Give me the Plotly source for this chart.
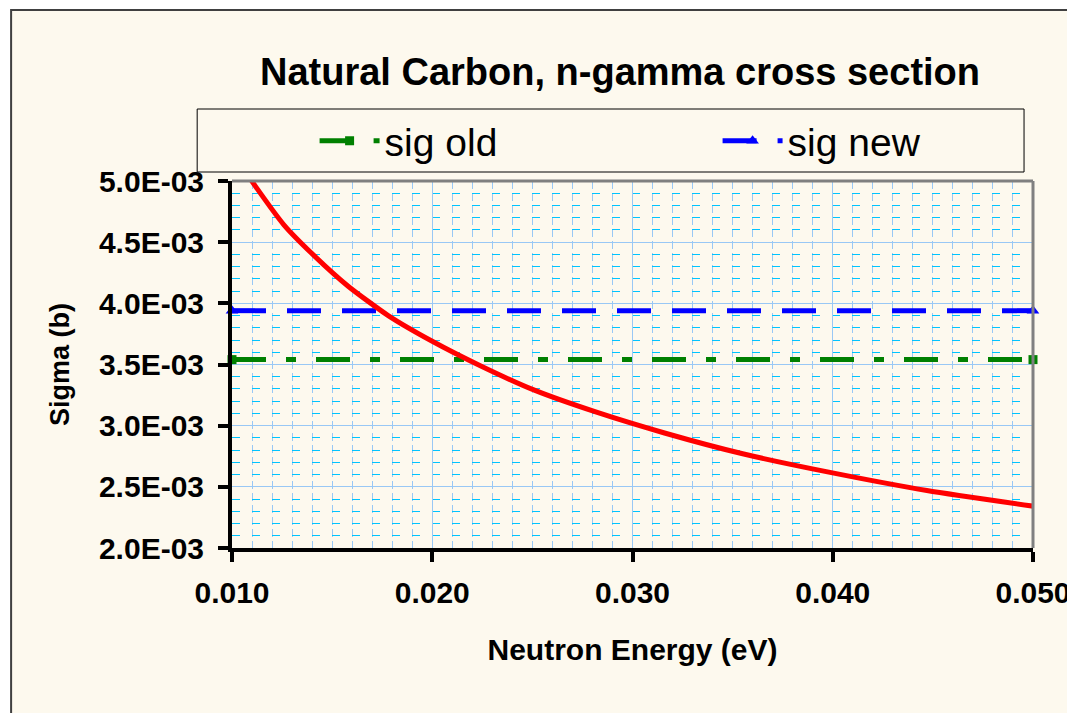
"""Natural carbon (n,gamma) cross section: tabulated old/new values vs 1/v curve."""
import plotly.graph_objects as go

# --------------------------------------------------------------------------- #
# Data
# --------------------------------------------------------------------------- #
ENERGY_EV = [0.0100, 0.0112, 0.0126, 0.0141, 0.0158, 0.0178, 0.0200, 0.0224,
             0.0251, 0.0282, 0.0316, 0.0355, 0.0398, 0.0447, 0.0501]
SIGMA_CURVE = [5.24e-3, 4.95e-3, 4.64e-3, 4.39e-3, 4.14e-3, 3.90e-3, 3.69e-3,
               3.49e-3, 3.29e-3, 3.11e-3, 2.94e-3, 2.77e-3, 2.62e-3, 2.47e-3,
               2.34e-3]

FLAT_ENERGY = [0.010, 0.050]
SIG_OLD = [3.54e-3, 3.54e-3]
SIG_NEW = [3.94e-3, 3.94e-3]

X_TICKS = [0.010, 0.020, 0.030, 0.040, 0.050]
Y_TICKS = [0.0020, 0.0025, 0.0030, 0.0035, 0.0040, 0.0045, 0.0050]
Y_TICK_LABELS = ["2.0E-03", "2.5E-03", "3.0E-03", "3.5E-03", "4.0E-03",
                 "4.5E-03", "5.0E-03"]

CREAM = "#FDF9EE"
FONT = "Arial, Liberation Sans, sans-serif"
W, H = 1075, 713
L, R, T, B = 224, 46, 173, 173
PAGE_OFFSET = 8   # body margin of the html page


def px_x(p):
    """Screen column -> paper x."""
    return (p - PAGE_OFFSET - L) / (W - L - R)


def px_y(p):
    """Screen row -> paper y."""
    return (H - B - (p - PAGE_OFFSET)) / (H - T - B)


fig = go.Figure()
fig.add_scatter(x=FLAT_ENERGY, y=SIG_OLD, name="sig old", mode="lines+markers",
                line=dict(color="#008000", width=5, dash="34px,20px,10px,20px"),
                marker=dict(symbol="square", size=9, color="#008000"),
                cliponaxis=False, legend="legend")
fig.add_scatter(x=FLAT_ENERGY, y=SIG_NEW, name="sig new", mode="lines+markers",
                line=dict(color="#0000FF", width=5, dash="34px,21px"),
                marker=dict(symbol="triangle-up", size=11, color="#0000FF"),
                cliponaxis=False, legend="legend2")
fig.add_scatter(x=ENERGY_EV, y=SIGMA_CURVE, name="1/v", mode="lines+markers",
                line=dict(color="#FF0000", width=5, shape="spline", smoothing=0.6),
                marker=dict(size=3, color="#FF0000"), showlegend=False)

# chart frame, legend box and the grey top/right plot border
fig.add_shape(type="rect", xref="paper", yref="paper", layer="below",
              x0=px_x(10), x1=px_x(1120), y0=px_y(760), y1=px_y(10),
              line=dict(color="#404040", width=2), fillcolor=CREAM)
fig.add_shape(type="rect", xref="paper", yref="paper", layer="below",
              x0=px_x(197), x1=px_x(1028), y0=px_y(172), y1=px_y(109),
              line=dict(color="black", width=1), fillcolor=CREAM)
fig.add_shape(type="line", xref="paper", yref="paper", x0=0, x1=1, y0=1, y1=1,
              line=dict(color="#808080", width=3))
fig.add_shape(type="line", xref="paper", yref="paper", x0=1, x1=1, y0=0, y1=1,
              line=dict(color="#808080", width=3))

axis_font = dict(family=FONT, size=30, color="black", weight="bold")
fig.update_xaxes(range=[0.010, 0.050], tickvals=X_TICKS, tickformat=".3f",
                 tickfont=axis_font, showline=True, linecolor="black",
                 linewidth=4, ticks="outside", ticklen=10, tickwidth=4,
                 tickcolor="black", ticklabelstandoff=5, showgrid=True,
                 gridcolor="#99C8F5", gridwidth=1, zeroline=False,
                 minor=dict(tickmode="linear", tick0=0.010, dtick=0.001,
                            showgrid=True, gridcolor="#99C8F5",
                            griddash="8px,4px", gridwidth=1),
                 title=dict(text="Neutron Energy (eV)", standoff=32,
                            font=dict(family=FONT, size=30, color="black",
                                      weight="bold")))
fig.update_yaxes(range=[0.0020, 0.0050], tickvals=Y_TICKS, ticktext=Y_TICK_LABELS,
                 tickfont=axis_font, showline=True, linecolor="black",
                 linewidth=4, ticks="outside", ticklen=10, tickwidth=4,
                 tickcolor="black", ticklabelstandoff=8, showgrid=True,
                 gridcolor="#99C8F5", gridwidth=1, zeroline=False,
                 minor=dict(tickmode="linear", tick0=0.0020, dtick=0.0001,
                            showgrid=True, gridcolor="#00C4FF",
                            griddash="8px,12px", gridwidth=1.2),
                 title=dict(text="Sigma (b)", standoff=22,
                            font=dict(family=FONT, size=27, color="black",
                                      weight="bold")))

legend_style = dict(orientation="h", y=px_y(141), xanchor="left",
                    yanchor="middle", bgcolor="rgba(0,0,0,0)", itemwidth=60,
                    font=dict(family=FONT, size=39, color="black"))
fig.update_layout(
    width=W, height=H, margin=dict(l=L, r=R, t=T, b=B),
    paper_bgcolor="white", plot_bgcolor=CREAM,
    title=dict(text="Natural Carbon, n-gamma cross section",
               x=(620 - PAGE_OFFSET) / W, xanchor="center",
               y=1 - (72 - PAGE_OFFSET) / H, yanchor="middle",
               font=dict(family=FONT, size=38, color="black", weight="bold")),
    legend=dict(x=px_x(315), **legend_style),
    legend2=dict(x=px_x(720), **legend_style),
)

fig.write_html("out.html")
